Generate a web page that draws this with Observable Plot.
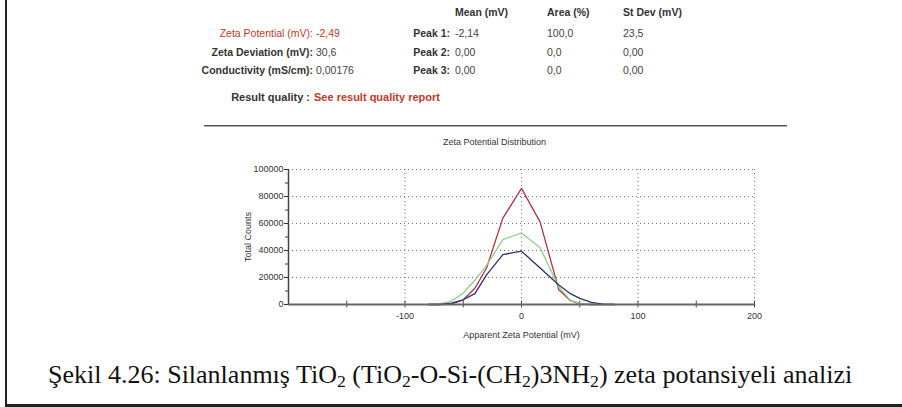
<!DOCTYPE html>
<html>
<head>
<meta charset="utf-8">
<script src="https://cdn.jsdelivr.net/npm/d3@7"></script>
<script src="https://cdn.jsdelivr.net/npm/@observablehq/plot@0.6"></script>
<style>
  html, body { margin:0; padding:0; background:#fff; }
  #page { position:relative; width:902px; height:407px; overflow:hidden; font-family: Arial, "Liberation Sans", sans-serif; }
  .t { position:absolute; white-space:nowrap; line-height:1; font-size:10.5px; color:#444; }
  .b { font-weight:bold; color:#333; }
  .r { color:#c0392b; }
</style>
</head>
<body>
<div id="page"></div>
<script>
// ---------------- DATA ----------------
const zeta = [-80, -70, -60, -50, -40, -30, -16, 0, 16, 32, 42, 50, 60, 70, 80];
const redCounts   = [0, 0, 500, 3500, 12000, 27000, 64000, 86000, 61000, 11000, 3000, 500, 0, 0, 0];
const greenCounts = [0, 500, 2500, 8500, 18000, 29000, 48000, 53000, 42000, 13000, 3000, 800, 0, 0, 0];
const navyCounts  = [0, 0, 1000, 3500, 8000, 22000, 37000, 39500, 27000, 14500, 8000, 4500, 1500, 300, 0];
const seriesNames = ["Run 1", "Run 2", "Run 3"];
const seriesColors = ["#ad3345", "#8fd08a", "#2c2f6e"];
const xTicks = [-100, 0, 100, 200];
const xMinorTicks = [-150, -50, 50, 150];
const yTicks = [0, 20000, 40000, 60000, 80000, 100000];
const yMinorTicks = [10000, 30000, 50000, 70000, 90000];

const summaryLabels = ["Zeta Potential (mV):", "Zeta Deviation (mV):", "Conductivity (mS/cm):"];
const summaryValues = ["-2,49", "30,6", "0,00176"];
const peakLabels = ["Peak 1:", "Peak 2:", "Peak 3:"];
const peakHeaders = ["Mean (mV)", "Area (%)", "St Dev (mV)"];
const peakMean = ["-2,14", "0,00", "0,00"];
const peakArea = ["100,0", "0,0", "0,0"];
const peakStDev = ["23,5", "0,00", "0,00"];

// ---------------- PAGE ----------------
const page = document.getElementById("page");
function txt(html, left, cy, cls, extra) {
  const d = document.createElement("div");
  d.className = "t " + (cls || "");
  d.innerHTML = html;
  Object.assign(d.style, extra || {});
  d.style.left = left + "px";
  d.style.top = (cy - 5.5) + "px";
  page.appendChild(d);
  return d;
}
function rtxt(html, right, cy, cls, extra) {
  const d = txt(html, 0, cy, cls, extra);
  d.style.left = "auto";
  d.style.right = (902 - right) + "px";
  return d;
}

// borders
const lb = document.createElement("div");
Object.assign(lb.style, {position:"absolute", left:"5px", top:"0px", width:"2px", height:"407px", background:"#222"});
page.appendChild(lb);
const bb = document.createElement("div");
Object.assign(bb.style, {position:"absolute", left:"5px", top:"404px", width:"897px", height:"3px", background:"#222"});
page.appendChild(bb);

// table
const rowsY = [33, 52, 70];
peakHeaders.forEach((h, i) => txt(h, [455, 547, 623][i], 12, "b"));
summaryLabels.forEach((l, i) => rtxt(l, 313, rowsY[i], i === 0 ? "r" : "b"));
summaryValues.forEach((v, i) => txt(v, 316, rowsY[i], i === 0 ? "r" : ""));
peakLabels.forEach((l, i) => rtxt(l, 450, rowsY[i], "b"));
peakMean.forEach((v, i) => txt(v, 455, rowsY[i]));
peakArea.forEach((v, i) => txt(v, 547, rowsY[i]));
peakStDev.forEach((v, i) => txt(v, 623, rowsY[i]));
rtxt("Result quality :", 310, 97, "b", {fontSize:"11px"});
txt("See result quality report", 314, 97, "b r", {fontSize:"11px"});

// separator
const sep = document.createElement("div");
Object.assign(sep.style, {position:"absolute", left:"204px", top:"125px", width:"583px", height:"1px", background:"#555", borderBottom:"1px solid #aaa"});
page.appendChild(sep);

// chart title
const ct = txt("Zeta Potential Distribution", 0, 143, "", {fontSize:"9px", color:"#333", textAlign:"center"});
ct.style.left = "202px"; ct.style.width = "585px";

// ---------------- CHART ----------------
const data = [];
[redCounts, greenCounts, navyCounts].forEach((arr, s) => {
  arr.forEach((c, i) => data.push({series: seriesNames[s], zeta: zeta[i], counts: c}));
});

const chart = Plot.plot({
  width: 585,
  height: 215,
  marginLeft: 86,
  marginRight: 33,
  marginTop: 39,
  marginBottom: 41,
  style: {fontFamily: "Arial, 'Liberation Sans', sans-serif", fontSize: "9px", color: "#333", background: "transparent", overflow: "visible"},
  x: {domain: [-200, 200], label: null},
  y: {domain: [0, 100000], label: null},
  color: {domain: seriesNames, range: seriesColors},
  marks: [
    Plot.gridX(xTicks, {stroke: "#777", strokeOpacity: 1, strokeDasharray: "1,3", strokeWidth: 1}),
    Plot.gridY(yTicks.slice(1), {stroke: "#777", strokeOpacity: 1, strokeDasharray: "1,3", strokeWidth: 1}),
    Plot.axisX({ticks: xTicks, tickFormat: d => String(d), tickSize: 0, tickPadding: 8, label: "Apparent Zeta Potential (mV)", labelAnchor: "center", labelArrow: "none", labelOffset: 33, fontSize: 9}),
    Plot.axisY({ticks: yTicks, tickFormat: d => String(d), tickSize: 4, tickPadding: 1, label: "Total Counts", labelAnchor: "center", labelArrow: "none", labelOffset: 44, fontSize: 9}),
    Plot.axisY({ticks: yMinorTicks, tickFormat: () => "", tickSize: 3, label: null}),
    Plot.ruleX(xMinorTicks.concat(xTicks), {y1: -2500, y2: 2500, stroke: "#444", strokeWidth: 1}),
    Plot.line(data, {x: "zeta", y: "counts", z: "series", stroke: "series", strokeWidth: 1.3}),
    Plot.ruleY([0], {stroke: "#666", strokeWidth: 2}),
    Plot.ruleX([-200], {stroke: "#444", strokeWidth: 1.5})
  ]
});
chart.style.position = "absolute";
chart.style.left = "202px";
chart.style.top = "130px";
page.appendChild(chart);

// caption
const cap = document.createElement("div");
Object.assign(cap.style, {position:"absolute", left:"48px", top:"362px", fontFamily:"'Liberation Serif', 'Times New Roman', serif", fontSize:"26px", color:"#111", whiteSpace:"nowrap", lineHeight:"1"});
const sub = "<sub style='font-size:68%;line-height:0;vertical-align:-0.22em'>2</sub>";
cap.innerHTML = "Şekil 4.26: Silanlanmış TiO" + sub + " (TiO" + sub + "-O-Si-(CH" + sub + ")3NH" + sub + ") zeta potansiyeli analizi";
page.appendChild(cap);
</script>
</body>
</html>
